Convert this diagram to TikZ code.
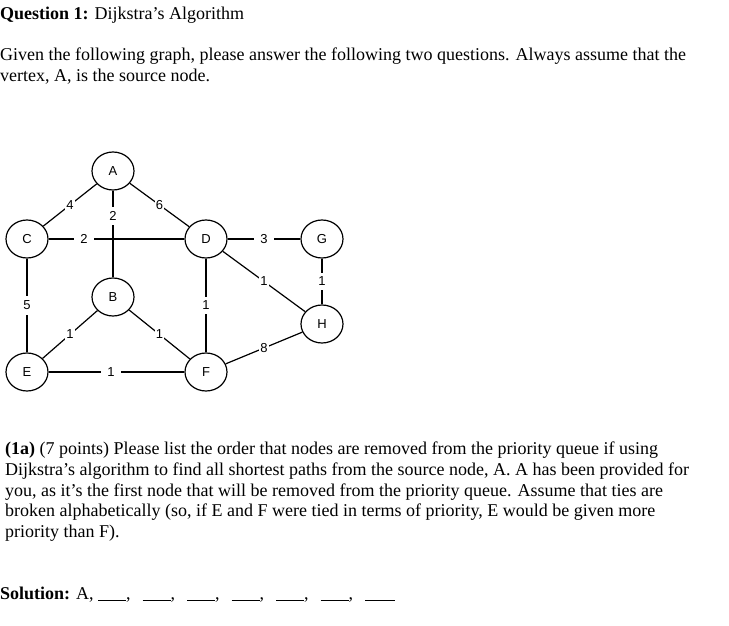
\documentclass[tikz,border=0pt]{standalone}
\usepackage{fontspec}
\setmainfont{Liberation Serif}
\newfontfamily\graphfont{Liberation Sans}
\usetikzlibrary{shapes.geometric}
\newcommand{\ansblank}{\rule[-1.5pt]{28pt}{0.7pt}}
\newcommand{\ansgap}{,\hspace{12pt}}

\begin{document}
\begin{tikzpicture}[x=1pt, y=-1pt,
    vert/.style={draw, ellipse, line width=1.2pt, minimum width=42pt,
                 minimum height=38pt, inner sep=0pt,
                 font=\graphfont\fontsize{13}{13}\selectfont},
    wt/.style={fill=white, inner xsep=6.5pt, inner ysep=4.5pt,
               font=\graphfont\fontsize{13}{13}\selectfont},
    wtd/.style={wt, inner sep=1pt},
    edge/.style={line width=1.2pt},
    txt/.style={anchor=base west, inner sep=0pt,
                font=\fontsize{18}{20.7}\selectfont},
  ]
    \useasboundingbox (0,0) rectangle (729,626);

    %% Header text
    \node[txt] (title) at (0,20) {\textbf{Question 1:} Dijkstra’s Algorithm};
    \node[txt] (give1) at (0,61)
      {Given the following graph, please answer the following two questions. Always assume that the};
    \node[txt] (give2) at (0,82) {vertex, A, is the source node.};

    %% Graph: pixel positions of the vertex centres
    \node[vert] (a) at (113,171) {A};
    \node[vert] (c) at (27,239)  {C};
    \node[vert] (d) at (206,239) {D};
    \node[vert] (g) at (322,239) {G};
    \node[vert] (b) at (113,297) {B};
    \node[vert] (h) at (322,324) {H};
    \node[vert] (e) at (27,372)  {E};
    \node[vert] (f) at (206,372) {F};

    % straight edges
    \draw[edge] (c) -- node[wt, pos=0.26] {2} (d);
    \draw[edge] (a) -- node[wt, pos=0.29] {2} (b);
    \draw[edge] (d) -- node[wt] {3} (g);
    \draw[edge] (g) -- node[wt] {1} (h);
    \draw[edge] (c) -- node[wt] {5} (e);
    \draw[edge] (d) -- node[wt] {1} (f);
    \draw[edge] (e) -- node[wt, pos=0.46] {1} (f);
    % diagonal edges
    \draw[edge] (a) -- node[wtd] {4} (c);
    \draw[edge] (a) -- node[wtd] {6} (d);
    \draw[edge] (d) -- node[wtd] {1} (h);
    \draw[edge] (b) -- node[wtd] {1} (e);
    \draw[edge] (b) -- node[wtd] {1} (f);
    \draw[edge] (f) -- node[wtd] {8} (h);

    %% Part (1a)
    \node[txt] (qa1) at (5,454)
      {\textbf{(1a)} (7 points) Please list the order that nodes are removed from the priority queue if using};
    \node[txt] (qa2) at (5,475)
      {Dijkstra’s algorithm to find all shortest paths from the source node, A. A has been provided for};
    \node[txt] (qa3) at (5,496)
      {you, as it’s the first node that will be removed from the priority queue. Assume that ties are};
    \node[txt] (qa4) at (5,516)
      {broken alphabetically (so, if E and F were tied in terms of priority, E would be given more};
    \node[txt] (qa5) at (5,537) {priority than F).};

    \node[txt] (sol) at (0,599)
      {\textbf{Solution:} A, \ansblank\ansgap\ansblank\ansgap\ansblank\ansgap
       \ansblank\ansgap\ansblank\ansgap\ansblank\ansgap\rule[-1.5pt]{30pt}{0.7pt}};
\end{tikzpicture}
\end{document}
